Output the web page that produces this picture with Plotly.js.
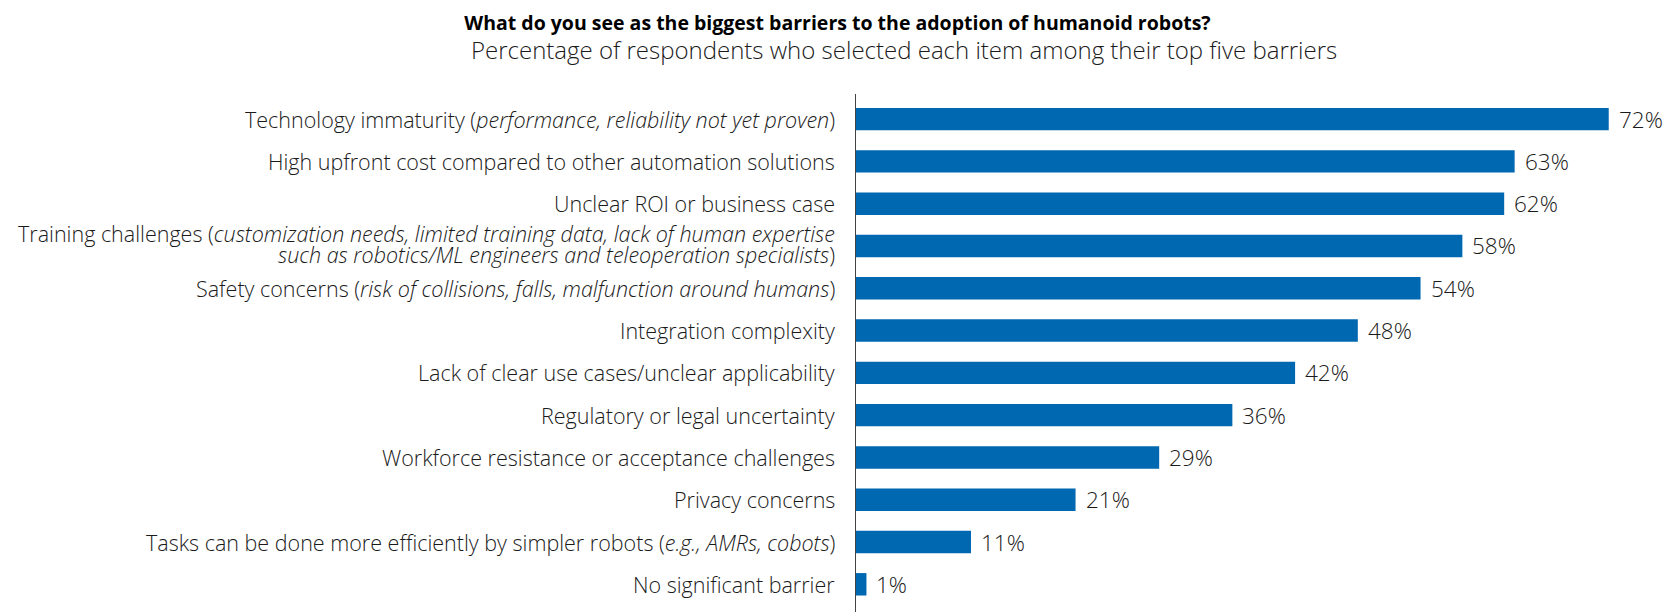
<!DOCTYPE html>
<html>
<head>
<meta charset="utf-8">
<script src="https://cdn.plot.ly/plotly-3.0.1.min.js"></script>
<style>
  html, body { margin: 0; padding: 0; background: #fff; }
  #chart { width: 1675px; height: 612px; }
</style>
</head>
<body>
<div id="chart"></div>
<script>
const categories = [
  "Technology immaturity (<i>performance, reliability not yet proven</i>)",
  "High upfront cost compared to other automation solutions",
  "Unclear ROI or business case",
  "Training challenges (<i>customization needs, limited training data, lack of human expertise</i><br><i>such as robotics/ML engineers and teleoperation specialists</i>)",
  "Safety concerns (<i>risk of collisions, falls, malfunction around humans</i>)",
  "Integration complexity",
  "Lack of clear use cases/unclear applicability",
  "Regulatory or legal uncertainty",
  "Workforce resistance or acceptance challenges",
  "Privacy concerns",
  "Tasks can be done more efficiently by simpler robots (<i>e.g., AMRs, cobots</i>)",
  "No significant barrier"
];
const values = [72, 63, 62, 58, 54, 48, 42, 36, 29, 21, 11, 1];
const valueLabels = values.map(v => v + "%");

const titleText = "What do you see as the biggest barriers to the adoption of humanoid robots?";
const subtitleText = "Percentage of respondents who selected each item among their top five barriers";

const FONT = "'Open Sans', 'DejaVu Sans', sans-serif";
const TEXT_COLOR = "#1a1a1a";
const LABEL_SIZE = 21.5;
const LINE_GAP = 21.5;

const trace = {
  type: "bar",
  orientation: "h",
  x: values,
  y: categories,
  marker: { color: "#0067B1" },
  hoverinfo: "skip"
};

const annotations = [];
// value labels
values.forEach((v, i) => {
  annotations.push({
    x: v, y: categories[i], xref: "x", yref: "y",
    text: valueLabels[i], showarrow: false,
    xanchor: "left", yanchor: "middle", xshift: 8,
    font: { family: FONT, size: 22.5, color: TEXT_COLOR, weight: 300 }
  });
});
// category labels (one annotation per text line, right-aligned to the axis)
categories.forEach((c, i) => {
  const lines = c.split("<br>");
  const n = lines.length;
  lines.forEach((line, k) => {
    annotations.push({
      x: 0, y: c, xref: "paper", yref: "y",
      text: line, showarrow: false,
      xanchor: "right", yanchor: "middle", align: "right",
      xshift: -19, yshift: ((n - 1) / 2 - k) * LINE_GAP + (n > 1 ? 2 : 0),
      font: { family: FONT, size: LABEL_SIZE, color: TEXT_COLOR, weight: 300 }
    });
  });
});
// subtitle
annotations.push({
  x: (904 - 856) / 805, xref: "paper", y: 1 + (94 - 49) / 518, yref: "paper",
  text: subtitleText, showarrow: false, xanchor: "center", yanchor: "middle",
  font: { family: FONT, size: 24, color: TEXT_COLOR, weight: 300 }
});

const layout = {
  width: 1675, height: 612,
  margin: { l: 856, r: 14, t: 94, b: 0, pad: 0 },
  paper_bgcolor: "#ffffff", plot_bgcolor: "#ffffff",
  showlegend: false,
  bargap: 0.47,
  title: {
    text: "<b>" + titleText + "</b>",
    x: 0.5, xref: "container", xanchor: "center",
    y: 1 - 23 / 612, yref: "container", yanchor: "middle",
    font: { family: FONT, size: 19.5, color: "#000" }
  },
  xaxis: {
    range: [0, 77], visible: false, fixedrange: true
  },
  yaxis: {
    type: "category",
    categoryorder: "array", categoryarray: categories,
    range: [11.655, -0.594],
    showline: true, linecolor: "#444", linewidth: 1,
    showgrid: false, zeroline: false, ticks: "",
    showticklabels: false,
    fixedrange: true
  },
  annotations: annotations
};

Plotly.newPlot("chart", [trace], layout, { displayModeBar: false, staticPlot: true });
</script>
</body>
</html>
